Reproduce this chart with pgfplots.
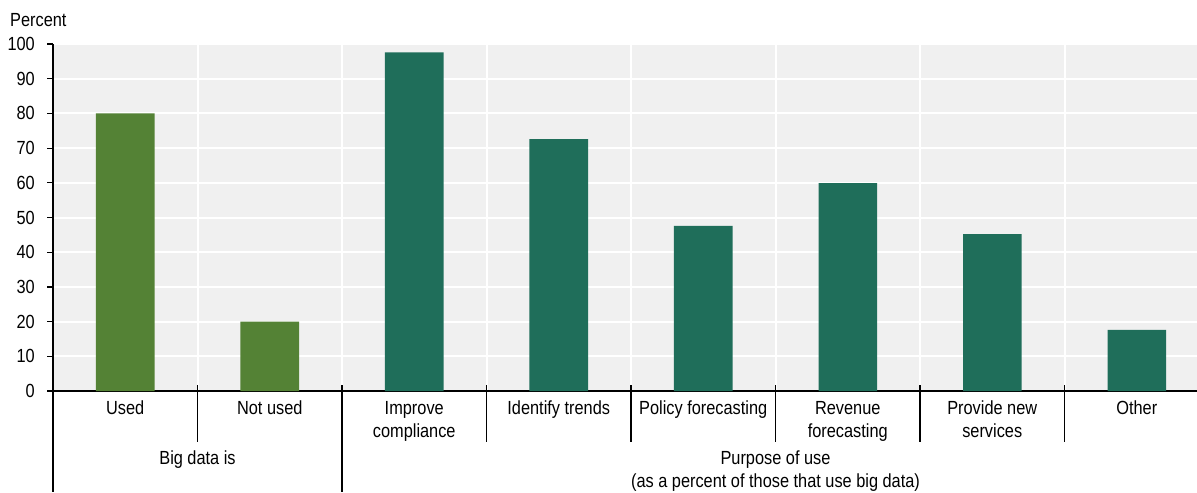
\documentclass[border=0pt]{standalone}
\usepackage{fontspec}
\setmainfont{Liberation Sans}[FakeStretch=0.86]
\usepackage{pgfplots}
\pgfplotsset{compat=1.18}
\definecolor{bg}{HTML}{F0F0F0}
\definecolor{cgreen}{HTML}{548235}
\definecolor{cteal}{HTML}{1F6E5A}
\begin{document}%
\fontsize{19bp}{23bp}\selectfont%
\begin{tikzpicture}[font=\fontsize{19bp}{23bp}\selectfont]
\begin{axis}[
 scale only axis, width=1156bp, height=347bp,
 xmin=-0.5, xmax=7.5, ymin=0, ymax=100,
 axis background/.style={fill=bg},
 axis x line*=bottom, axis y line*=left,
 axis line style={black, line width=1.2bp},
 ytick={0,10,...,100},
 xtick={0,...,7},
 xticklabels={Used, Not used, Improve\\compliance, Identify trends, Policy forecasting, Revenue\\forecasting, Provide new\\services, Other},
 xticklabel style={align=center, anchor=north, inner sep=0pt, yshift=-4bp},
 x tick style={draw=none},
 y tick style={black, line width=1.2bp},
 tick align=outside, major tick length=6bp, minor tick length=0pt,
 minor xtick={0.5,1.5,...,6.5},
 xminorgrids, ymajorgrids,
 major grid style={white, line width=2bp},
 minor grid style={white, line width=2bp},
 yticklabel style={/pgf/number format/assume math mode=true, anchor=east, inner sep=0pt, xshift=-12bp},
 clip=false,
]
\addplot[ybar, bar shift=0pt, bar width=0.405, fill=cgreen, draw=none] coordinates {(0,80) (1,20)};
\addplot[ybar, bar shift=0pt, bar width=0.405, fill=cteal, draw=none] coordinates {(2,97.6) (3,72.6) (4,47.6) (5,59.9) (6,45.2) (7,17.6)};
\coordinate (SW) at (rel axis cs:0,0);
\coordinate (NE) at (rel axis cs:1,1);
\draw[black, line width=1.6bp] ([yshift=6bp]axis cs:0.5,0) -- ([yshift=-51bp]axis cs:0.5,0);
\draw[black, line width=1.6bp] ([yshift=6bp]axis cs:2.5,0) -- ([yshift=-51bp]axis cs:2.5,0);
\draw[black, line width=1.6bp] ([yshift=6bp]axis cs:3.5,0) -- ([yshift=-51bp]axis cs:3.5,0);
\draw[black, line width=1.6bp] ([yshift=6bp]axis cs:4.5,0) -- ([yshift=-51bp]axis cs:4.5,0);
\draw[black, line width=1.6bp] ([yshift=6bp]axis cs:5.5,0) -- ([yshift=-51bp]axis cs:5.5,0);
\draw[black, line width=1.6bp] ([yshift=6bp]axis cs:6.5,0) -- ([yshift=-51bp]axis cs:6.5,0);
\draw[black, line width=1.6bp] ([yshift=6bp]axis cs:1.5,0) -- ([yshift=-101bp]axis cs:1.5,0);
\draw[black, line width=1.2bp] (axis cs:-0.5,0) -- ([yshift=-101bp]axis cs:-0.5,0);
\node[anchor=north, inner sep=0pt] at ([yshift=-60bp]axis cs:0.5,0) {Big data is};
\node[anchor=north, inner sep=0pt, align=center] at ([yshift=-60bp]axis cs:4.5,0) {Purpose of use\\(as a percent of those that use big data)};
\node[anchor=base west, inner sep=0pt] at ([xshift=-43bp, yshift=17bp]rel axis cs:0,1) {Percent};
\end{axis}
\pgfresetboundingbox
\path ([shift={(-53bp,-101bp)}]SW) rectangle ([shift={(-12bp,44bp)}]NE);
\end{tikzpicture}%
\end{document}
